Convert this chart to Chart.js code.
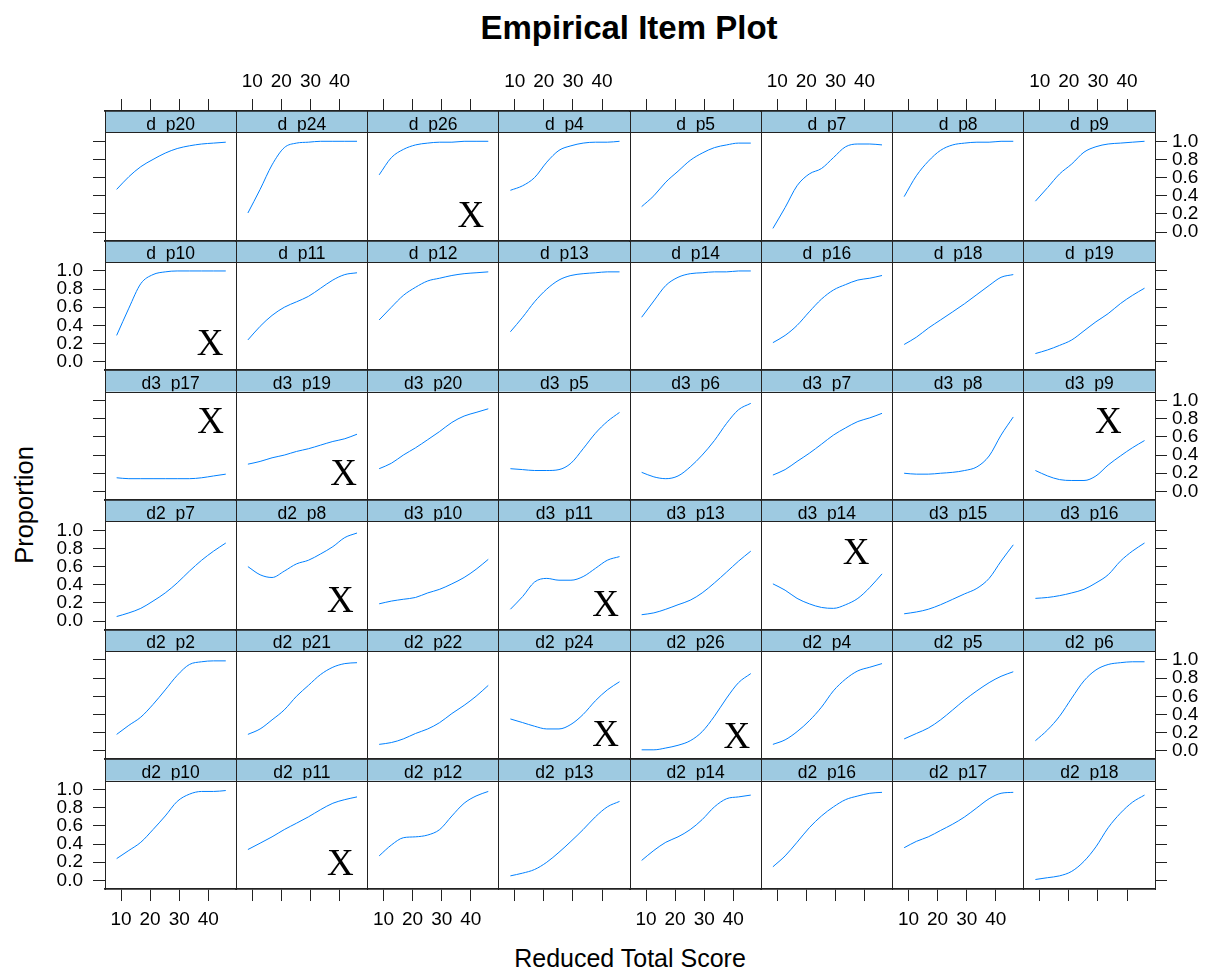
<!DOCTYPE html>
<html>
<head>
<meta charset="utf-8">
<title>Empirical Item Plot</title>
<script src="https://cdn.jsdelivr.net/npm/chart.js@4.4.1/dist/chart.umd.min.js"></script>
<style>
  body { margin: 0; background: #fff; width: 1212px; height: 975px; position: relative; overflow: hidden;
         font-family: "Liberation Sans", Arial, sans-serif; }
  canvas { position: absolute; }
  .txt { position: absolute; line-height: 1; white-space: nowrap; transform: translate(-50%, -50%); color: #000; }
  #title { left: 629px; top: 27px; font-size: 33px; font-weight: bold; }
  #xlab { left: 630px; top: 958px; font-size: 25px; }
  #ylab { left: 25px; top: 505px; font-size: 25.5px; transform: translate(-50%, -50%) rotate(-90deg); }
</style>
</head>
<body>
<div id="title" class="txt">Empirical Item Plot</div>
<div id="xlab" class="txt">Reduced Total Score</div>
<div id="ylab" class="txt">Proportion</div>
<script>
// Reduced total score at which each proportion was read
const scores = [8.5, 12.7, 16.8, 21, 25.2, 29.3, 33.5, 37.7, 41.8, 46];

// Tick values
const scoreTicks = [10, 20, 30, 40];
const propTicks = [0, 0.2, 0.4, 0.6, 0.8, 1.0];

// Panel names, one array per row (top row first)
const row1Items = ['d_p20', 'd_p24', 'd_p26', 'd_p4', 'd_p5', 'd_p7', 'd_p8', 'd_p9'];
const row2Items = ['d_p10', 'd_p11', 'd_p12', 'd_p13', 'd_p14', 'd_p16', 'd_p18', 'd_p19'];
const row3Items = ['d3_p17', 'd3_p19', 'd3_p20', 'd3_p5', 'd3_p6', 'd3_p7', 'd3_p8', 'd3_p9'];
const row4Items = ['d2_p7', 'd2_p8', 'd3_p10', 'd3_p11', 'd3_p13', 'd3_p14', 'd3_p15', 'd3_p16'];
const row5Items = ['d2_p2', 'd2_p21', 'd2_p22', 'd2_p24', 'd2_p26', 'd2_p4', 'd2_p5', 'd2_p6'];
const row6Items = ['d2_p10', 'd2_p11', 'd2_p12', 'd2_p13', 'd2_p14', 'd2_p16', 'd2_p17', 'd2_p18'];

// Proportion correct per panel, same order as the item arrays
const row1Values = [
  [0.47, 0.61, 0.72, 0.80, 0.87, 0.92, 0.95, 0.97, 0.98, 0.99],
  [0.21, 0.47, 0.74, 0.93, 0.98, 0.99, 1.00, 1.00, 1.00, 1.00],
  [0.63, 0.82, 0.91, 0.96, 0.98, 0.99, 0.99, 1.00, 1.00, 1.00],
  [0.46, 0.51, 0.60, 0.77, 0.90, 0.95, 0.98, 0.99, 0.99, 1.00],
  [0.28, 0.40, 0.55, 0.67, 0.79, 0.87, 0.93, 0.96, 0.98, 0.98],
  [0.04, 0.27, 0.51, 0.64, 0.70, 0.82, 0.94, 0.97, 0.97, 0.96],
  [0.39, 0.62, 0.78, 0.90, 0.96, 0.98, 0.99, 0.99, 1.00, 1.00],
  [0.34, 0.49, 0.64, 0.75, 0.88, 0.94, 0.97, 0.98, 0.99, 1.00]
];
const row2Values = [
  [0.29, 0.59, 0.86, 0.96, 0.99, 1.00, 1.00, 1.00, 1.00, 1.00],
  [0.24, 0.39, 0.51, 0.60, 0.66, 0.72, 0.81, 0.90, 0.96, 0.98],
  [0.46, 0.60, 0.73, 0.82, 0.89, 0.92, 0.95, 0.97, 0.98, 0.99],
  [0.33, 0.49, 0.66, 0.80, 0.90, 0.95, 0.97, 0.98, 0.99, 0.99],
  [0.49, 0.67, 0.84, 0.93, 0.97, 0.98, 0.99, 0.99, 1.00, 1.00],
  [0.21, 0.29, 0.40, 0.55, 0.69, 0.79, 0.85, 0.90, 0.92, 0.95],
  [0.19, 0.27, 0.37, 0.46, 0.55, 0.64, 0.74, 0.84, 0.93, 0.96],
  [0.09, 0.13, 0.18, 0.24, 0.34, 0.44, 0.53, 0.64, 0.73, 0.81]
];
const row3Values = [
  [0.15, 0.14, 0.14, 0.14, 0.14, 0.14, 0.14, 0.15, 0.17, 0.19],
  [0.30, 0.33, 0.37, 0.40, 0.44, 0.47, 0.51, 0.55, 0.58, 0.63],
  [0.25, 0.31, 0.40, 0.48, 0.57, 0.66, 0.76, 0.83, 0.87, 0.91],
  [0.25, 0.24, 0.23, 0.23, 0.24, 0.31, 0.47, 0.64, 0.77, 0.87],
  [0.21, 0.16, 0.14, 0.17, 0.27, 0.40, 0.56, 0.75, 0.90, 0.97],
  [0.18, 0.24, 0.33, 0.42, 0.52, 0.62, 0.70, 0.77, 0.81, 0.86],
  [0.20, 0.19, 0.19, 0.20, 0.21, 0.23, 0.27, 0.39, 0.62, 0.82],
  [0.23, 0.17, 0.13, 0.12, 0.12, 0.17, 0.29, 0.39, 0.48, 0.56]
];
const row4Values = [
  [0.05, 0.09, 0.14, 0.22, 0.31, 0.42, 0.55, 0.67, 0.77, 0.86],
  [0.60, 0.51, 0.48, 0.55, 0.63, 0.67, 0.74, 0.82, 0.92, 0.97],
  [0.19, 0.22, 0.24, 0.26, 0.31, 0.35, 0.41, 0.48, 0.57, 0.68],
  [0.13, 0.27, 0.43, 0.47, 0.45, 0.45, 0.49, 0.58, 0.67, 0.71],
  [0.07, 0.09, 0.13, 0.18, 0.23, 0.31, 0.42, 0.54, 0.66, 0.77],
  [0.41, 0.34, 0.25, 0.19, 0.15, 0.14, 0.18, 0.25, 0.37, 0.52],
  [0.08, 0.10, 0.13, 0.18, 0.24, 0.30, 0.36, 0.47, 0.66, 0.84],
  [0.25, 0.26, 0.28, 0.31, 0.35, 0.42, 0.51, 0.66, 0.77, 0.86]
];
const row5Values = [
  [0.18, 0.28, 0.37, 0.51, 0.67, 0.83, 0.95, 0.98, 0.99, 0.99],
  [0.18, 0.24, 0.34, 0.45, 0.60, 0.72, 0.84, 0.92, 0.96, 0.97],
  [0.07, 0.09, 0.13, 0.19, 0.24, 0.31, 0.41, 0.50, 0.60, 0.72],
  [0.35, 0.31, 0.27, 0.24, 0.24, 0.29, 0.40, 0.55, 0.67, 0.76],
  [0.01, 0.01, 0.03, 0.06, 0.11, 0.21, 0.38, 0.58, 0.75, 0.85],
  [0.07, 0.12, 0.21, 0.33, 0.48, 0.66, 0.79, 0.88, 0.92, 0.96],
  [0.13, 0.19, 0.25, 0.34, 0.45, 0.56, 0.66, 0.75, 0.82, 0.87],
  [0.11, 0.23, 0.38, 0.58, 0.77, 0.89, 0.95, 0.97, 0.98, 0.98]
];
const row6Values = [
  [0.24, 0.33, 0.42, 0.56, 0.71, 0.87, 0.95, 0.98, 0.98, 0.99],
  [0.34, 0.41, 0.48, 0.56, 0.63, 0.70, 0.78, 0.85, 0.89, 0.92],
  [0.27, 0.39, 0.47, 0.48, 0.50, 0.56, 0.71, 0.85, 0.93, 0.98],
  [0.05, 0.08, 0.12, 0.20, 0.31, 0.43, 0.56, 0.70, 0.81, 0.87],
  [0.22, 0.33, 0.42, 0.48, 0.56, 0.67, 0.81, 0.90, 0.92, 0.94],
  [0.15, 0.27, 0.42, 0.58, 0.71, 0.81, 0.89, 0.93, 0.96, 0.97],
  [0.36, 0.43, 0.48, 0.55, 0.62, 0.70, 0.80, 0.90, 0.96, 0.97],
  [0.01, 0.03, 0.05, 0.10, 0.21, 0.37, 0.58, 0.74, 0.86, 0.94]
];

// Items flagged with an "X", and where the mark sits (score, proportion)
const flaggedItems = ['d_p26', 'd_p10', 'd3_p17', 'd3_p19', 'd3_p9', 'd2_p8', 'd3_p11', 'd3_p14', 'd2_p24', 'd2_p26', 'd2_p11'];
const flagScore = [40.0, 40.6, 40.8, 41.4, 33.6, 40.3, 41.2, 37.1, 41.2, 41.2, 40.3];
const flagProp = [0.19, 0.21, 0.78, 0.21, 0.78, 0.24, 0.19, 0.76, 0.19, 0.16, 0.19];

const rowItems = [row1Items, row2Items, row3Items, row4Items, row5Items, row6Items];
const rowValues = [row1Values, row2Values, row3Values, row4Values, row5Values, row6Values];

// Page layout (pixels) of the lattice grid
const GRID_LEFT = 105, GRID_TOP = 111;
const CELL_W = 131.25, CELL_H = 129.67, STRIP_H = 21.3;
const MARGIN = 60;
const TICK_LEN = 12;
const LINE_COLOR = '#222';
const STRIP_COLOR = '#9ECAE1';
const CURVE_COLOR = '#0080ff';
const FONT = '"Liberation Sans", Arial, sans-serif';

// Axis ranges; the strip lives inside the chart area above Y_MAX
const X_MIN = 4.5, X_MAX = 49.6;
const Y_MIN = -0.095, Y_MAX = 1.099;
const Y_TOP = Y_MAX + STRIP_H * (Y_MAX - Y_MIN) / (CELL_H - STRIP_H);

// Draws the strip background, strip label, strip border and the X flags
const stripPlugin = {
  id: 'strip',
  beforeDraw(chart) {
    const { ctx, chartArea: a } = chart;
    const yb = chart.scales.y.getPixelForValue(Y_MAX);
    ctx.save();
    ctx.fillStyle = STRIP_COLOR;
    ctx.fillRect(a.left, a.top, a.right - a.left, yb - a.top);
    ctx.restore();
  },
  afterDraw(chart, args, opts) {
    const { ctx, chartArea: a } = chart;
    const yb = chart.scales.y.getPixelForValue(Y_MAX);
    ctx.save();
    // label is clipped to the strip, so the underscore hides under the border
    ctx.beginPath();
    ctx.rect(a.left, a.top, a.right - a.left, yb - a.top - 0.5);
    ctx.clip();
    ctx.fillStyle = '#000';
    ctx.font = '17.5px ' + FONT;
    ctx.textAlign = 'center';
    ctx.textBaseline = 'alphabetic';
    ctx.fillText(opts.name, (a.left + a.right) / 2, yb - 2.7);
    ctx.restore();

    ctx.save();
    ctx.strokeStyle = LINE_COLOR;
    ctx.lineWidth = 1;
    const ly = Math.round(yb) + 0.5;
    ctx.beginPath();
    ctx.moveTo(a.left, ly);
    ctx.lineTo(a.right, ly);
    ctx.stroke();
    ctx.restore();

    const f = flaggedItems.indexOf(opts.name);
    if (f >= 0) {
      const px = chart.scales.x.getPixelForValue(flagScore[f]);
      const py = chart.scales.y.getPixelForValue(flagProp[f]);
      ctx.save();
      ctx.fillStyle = '#000';
      ctx.font = '37px "Liberation Serif", "Times New Roman", serif';
      ctx.textAlign = 'center';
      ctx.textBaseline = 'alphabetic';
      ctx.fillText('X', px, py + 0.331 * 37);
      ctx.restore();
    }
  }
};

// One axis of a panel; marks/labels switch the outer ticks on or off
function makeScale(isX, pos, marks, labels, size, padding) {
  return {
    type: 'linear',
    position: pos,
    min: isX ? X_MIN : Y_MIN,
    max: isX ? X_MAX : Y_TOP,
    grid: { display: marks, drawOnChartArea: false, drawTicks: true, tickLength: TICK_LEN, color: LINE_COLOR, lineWidth: 1 },
    // horizontal panel edges look heavier in the original
    border: { display: true, color: LINE_COLOR, width: isX ? 1.7 : 1 },
    ticks: {
      display: labels,
      autoSkip: false,
      maxRotation: 0,
      minRotation: 0,
      padding: padding,
      color: '#000',
      font: { family: FONT, size: 19 },
      callback: isX ? (v) => String(v) : (v) => v.toFixed(1)
    },
    afterBuildTicks: (s) => { s.ticks = (isX ? scoreTicks : propTicks).map(v => ({ value: v })); },
    afterFit: (s) => { if (isX) s.height = size; else s.width = size; }
  };
}

// Build one chart per panel, placed so its chart area is exactly the grid cell
rowItems.forEach((items, r) => {
  items.forEach((name, c) => {
    const xl = GRID_LEFT + CELL_W * c, xr = xl + CELL_W;
    const yt = GRID_TOP + CELL_H * r, yb = yt + CELL_H;
    const cl = Math.floor(xl) - MARGIN, cr = Math.ceil(xr) + MARGIN;
    const ct = Math.floor(yt) - MARGIN, cb = Math.ceil(yb) + MARGIN;

    const canvas = document.createElement('canvas');
    canvas.width = cr - cl;
    canvas.height = cb - ct;
    canvas.style.left = cl + 'px';
    canvas.style.top = ct + 'px';
    canvas.style.width = (cr - cl) + 'px';
    canvas.style.height = (cb - ct) + 'px';
    document.body.appendChild(canvas);

    const values = rowValues[r][c];
    const lastRow = r === rowItems.length - 1;
    const lastCol = c === items.length - 1;

    new Chart(canvas.getContext('2d'), {
      type: 'line',
      data: {
        datasets: [{
          data: scores.map((s, i) => ({ x: s, y: values[i] })),
          borderColor: CURVE_COLOR,
          borderWidth: 1,
          pointRadius: 0,
          cubicInterpolationMode: 'monotone',
          fill: false
        }]
      },
      options: {
        responsive: false,
        animation: false,
        devicePixelRatio: 1,
        events: [],
        layout: { padding: 0, autoPadding: false },
        scales: {
          x: makeScale(true, 'bottom', lastRow, lastRow && c % 2 === 0, cb - yb, 7),
          x2: makeScale(true, 'top', r === 0, r === 0 && c % 2 === 1, yt - ct, 6),
          y: makeScale(false, 'left', c === 0, c === 0 && r % 2 === 1, xl - cl, 10),
          y2: makeScale(false, 'right', lastCol, lastCol && r % 2 === 0, cr - xr, 5)
        },
        plugins: {
          legend: { display: false },
          tooltip: { enabled: false },
          strip: { name: name }
        }
      },
      plugins: [stripPlugin]
    });
  });
});
</script>
</body>
</html>
